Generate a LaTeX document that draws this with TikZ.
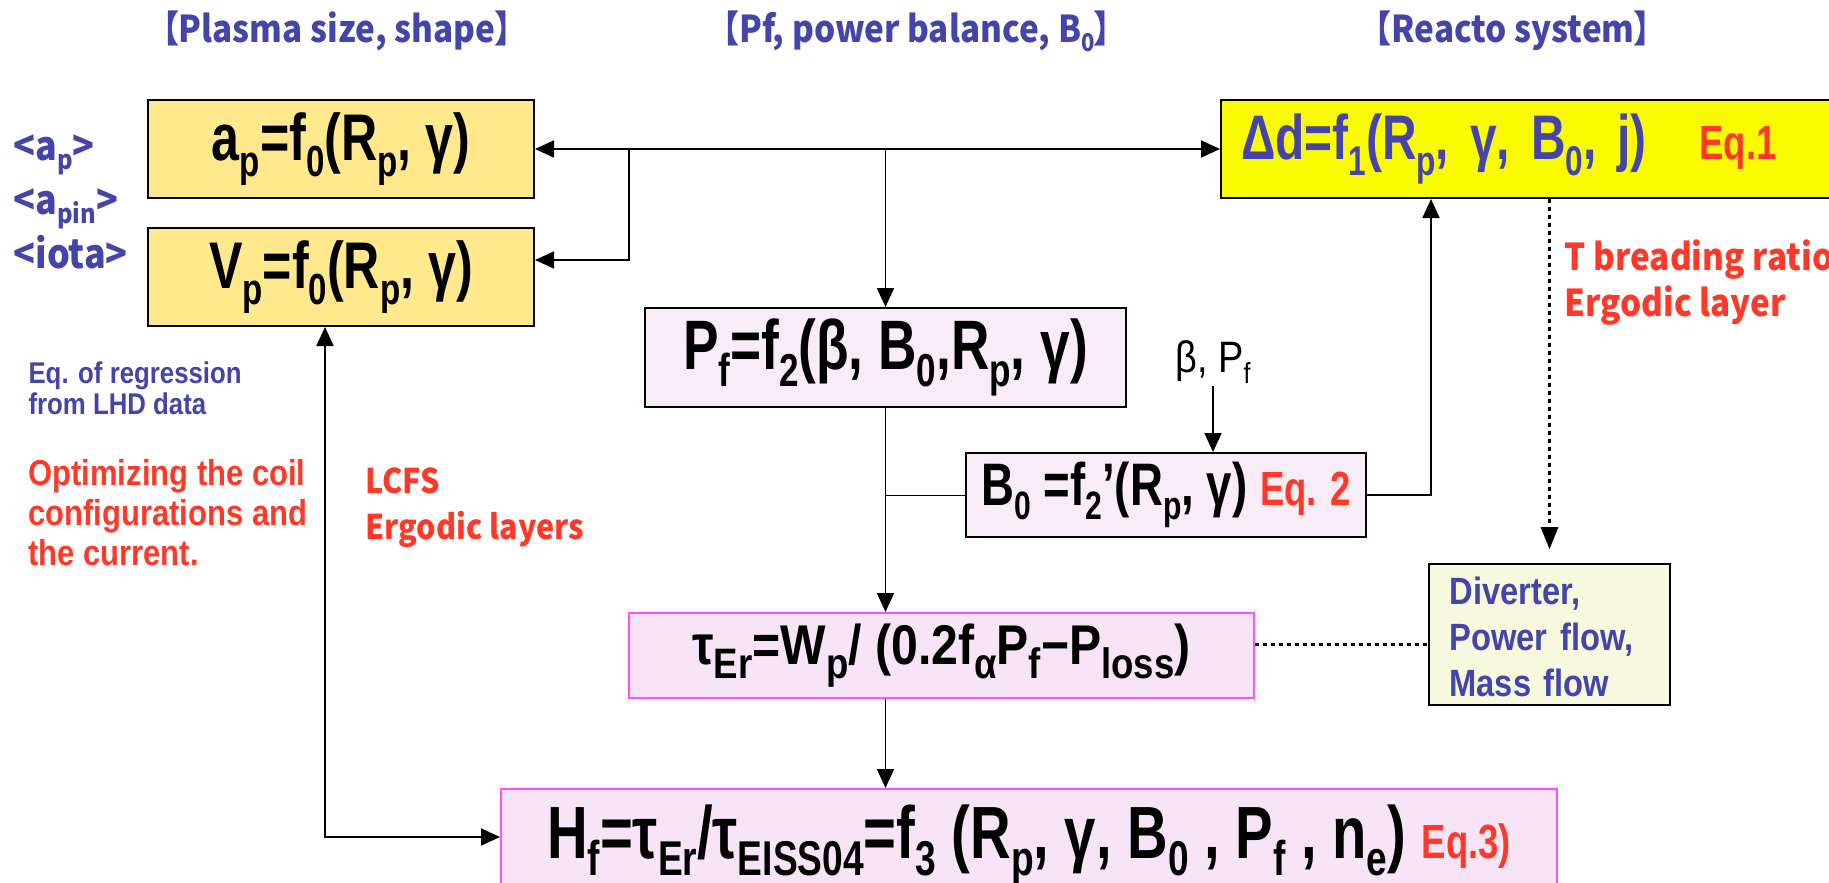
\documentclass[tikz,border=0pt]{standalone}
\usepackage{fontspec}
\setmainfont{Liberation Sans}
\newfontfamily\narrowfont[FakeStretch=0.76]{Liberation Sans}
\newfontfamily\notefont[FakeStretch=0.86]{Liberation Sans}
\newfontfamily\cjkfont[FakeStretch=0.9,RawFeature=+palt]{Noto Sans CJK JP}
\usetikzlibrary{positioning, arrows.meta}

\definecolor{titleblue}{RGB}{68,68,170}
\definecolor{eqred}{RGB}{255,56,40}
\definecolor{sandyellow}{RGB}{255,233,140}
\definecolor{lemon}{RGB}{250,250,0}
\definecolor{palepink}{RGB}{248,236,246}
\definecolor{lilac}{RGB}{247,228,247}
\definecolor{magentaline}{RGB}{255,80,255}
\definecolor{creamgreen}{RGB}{247,249,222}

% subscripts as in the slide
\newcommand{\lo}[1]{\raisebox{-0.24em}{\scalebox{0.66}{#1}}}
\newcommand{\lotau}[1]{\raisebox{-0.26em}{\scalebox{0.76}{#1}}}
\newcommand{\eqtag}{\fontsize{48}{52}\selectfont\color{eqred}}

\tikzset{
  eqbox/.style={rectangle, draw=black, line width=2pt, inner sep=0pt, text centered, font=\narrowfont\bfseries\fontsize{66}{72}\selectfont},
  plasmabox/.style={eqbox, fill=sandyellow, minimum width=386pt, minimum height=98pt},
  reactorbox/.style={eqbox, fill=lemon, text=titleblue, text width=588pt, inner xsep=20pt, align=left, minimum height=98pt},
  balancebox/.style={eqbox, fill=palepink},
  confbox/.style={eqbox, fill=lilac, draw=magentaline},
  notebox/.style={rectangle, draw=black, line width=2pt, fill=creamgreen, text=titleblue, text width=200pt, inner xsep=20.5pt, align=left, minimum height=141pt, font=\notefont\bfseries\fontsize{38}{46}\selectfont},
  heading/.style={text=titleblue, font=\cjkfont\bfseries\fontsize{37}{40}\selectfont},
  redlabel/.style={text=eqred, align=left, font=\cjkfont\bfseries\fontsize{34}{46}\selectfont},
  bluelabel/.style={text=titleblue, font=\cjkfont\bfseries\fontsize{40}{40}\selectfont},
  arrow/.style={line width=1.8pt, -{Triangle[length=19pt,width=17pt]}},
  twoway/.style={line width=1.8pt, {Triangle[length=19pt,width=17pt]}-{Triangle[length=19pt,width=17pt]}},
  dotline/.style={line width=3pt, dash pattern=on 4pt off 4pt}
}

\begin{document}
\begin{tikzpicture}[x=1pt, y=-1pt]
  \path[use as bounding box] (0,0) rectangle (1829,883);
  \clip (0,0) rectangle (1829,883);

  % headings
  \node (tsize) [heading] at (337,31) {【Plasma size, shape】};
  \node (tbal) [heading] at (917,31) {【Pf, power balance, B\lo{0}】};
  \node (treact) [heading] at (1513,31) {【Reacto system】};

  % plasma size, shape
  \node (ap) [plasmabox] at (341,149) {a\lo{p}=f\lo{0}(R\lo{p}, γ)};
  \node (vp) [plasmabox] at (341,277) {V\lo{p}=f\lo{0}(R\lo{p}, γ)};
  \node (lap) [bluelabel, anchor=base west] at (10,160) {<a\lo{p}>};
  \node (lapin) [bluelabel, anchor=base west] at (10,214) {<a\lo{pin}>};
  \node (liota) [bluelabel, anchor=base west] at (10,268) {<iota>};
  \node (regr) [anchor=north west, align=left, text=titleblue, font=\notefont\bfseries\fontsize{30}{31}\selectfont] at (25,358) {Eq. of regression\\from LHD data};
  \node (optim) [anchor=north west, align=left, text=eqred, font=\notefont\bfseries\fontsize{36}{40}\selectfont] at (25,456) {Optimizing the coil\\configurations and\\the current.};
  \node (lcfs) [redlabel, anchor=north west] at (362,464) {LCFS\\Ergodic layers};

  % power balance
  \node (pf) [balancebox, minimum width=481pt, minimum height=99pt, font=\narrowfont\bfseries\fontsize{70}{76}\selectfont] at (885.5,357.5) {P\lo{f}=f\lo{2}(β, B\lo{0},R\lo{p}, γ)};
  \node (bp) [font=\notefont\fontsize{44}{48}\selectfont, inner sep=3pt] at (1213,362) {β, P\lo{f}};
  \node (bz) [balancebox, minimum width=400pt, minimum height=84pt, font=\narrowfont\bfseries\fontsize{60}{66}\selectfont] at (1166,495) {B\lo{0} =f\lo{2}’(R\lo{p}, γ) {\eqtag Eq. 2}};
  \node (tau) [confbox, minimum width=625pt, minimum height=85pt, font=\notefont\bfseries\fontsize{56}{60}\selectfont] at (941.5,655.5) {τ\lotau{Er}=W\lotau{p}/ (0.2f\lotau{α}P\lotau{f}−P\lotau{loss})};
  \node (hf) [confbox, anchor=north, minimum width=1056pt, inner ysep=0pt, text height=69pt, text depth=50pt, font=\narrowfont\bfseries\fontsize{74}{80}\selectfont] at (1029,788) {H\lo{f}=τ\lo{Er}/τ\lo{EISS04}=f\lo{3} (R\lo{p}, γ, B\lo{0} , P\lo{f} , n\lo{e}) {\eqtag Eq.3)}};

  % reactor system
  \node (dd) [reactorbox, font=\narrowfont\bfseries\fontsize{63}{70}\selectfont] at (1535,149) {Δd=f\lo{1}(R\lo{p}, γ, B\lo{0}, j) \enspace{\eqtag Eq.1}};
  \node (tbr) [redlabel, anchor=north west, font=\cjkfont\bfseries\fontsize{37}{46}\selectfont] at (1561,236) {T breading ratio\\Ergodic layer};
  \node (div) [notebox] at (1549.5,634.5) {\strut Diverter,\\Power flow,\\Mass flow};

  \coordinate (lcfsbend) at (325,837);

  \draw [twoway] (ap) -- (dd);
  \draw [arrow] (629,149) |- ([yshift=17pt]vp.east);
  \draw [arrow] (pf.north |- ap.east) -- (pf.north);
  \draw [arrow] (bp.south) -- (bp.south |- bz.north);
  \draw [arrow] (pf.south) -- (pf.south |- tau.north);
  \draw (bz.west) -- (bz.west -| pf.south);
  \draw [arrow] (bz.east) -- ++(64,0) coordinate (bzbend) -- (bzbend |- dd.south);
  \draw [arrow] (tau.south -| pf.south) -- (pf.south |- hf.north);
  \draw [twoway] (vp.south -| lcfsbend) -- (lcfsbend) -- (lcfsbend -| hf.west);

  % dotted links
  \draw [dotline] (div.north |- dd.south) -- ([yshift=33pt]div.north);
  \fill ([yshift=14pt]div.north) -- ++(-9,-22) -- ++(18,0) -- cycle;
  \draw [dotline] ([yshift=11pt]tau.east) -- ([yshift=11pt]tau.east -| div.west);
\end{tikzpicture}
\end{document}
